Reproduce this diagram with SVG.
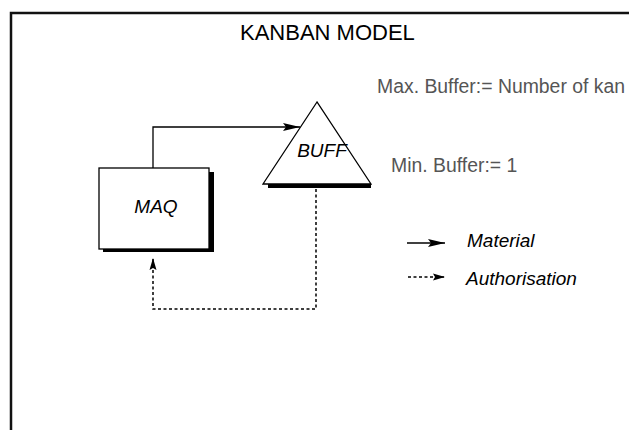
<svg xmlns="http://www.w3.org/2000/svg" width="629" height="430" viewBox="0 0 629 430">
  <style>
    .lbl { font-family: "Liberation Sans", Arial, sans-serif; fill: #000; }
    .it { font-style: italic; font-size: 19px; }
    .note { font-family: "Liberation Sans", Arial, sans-serif; font-size: 19.4px; fill: #555; }
    .frame { stroke: #111; stroke-width: 2.5; fill: none; }
    .shape { fill: #fff; stroke: #000; stroke-width: 1.3; }
    .shadow { fill: #000; }
    .flow { fill: none; stroke: #000; stroke-width: 1.3; }
    .auth { fill: none; stroke: #000; stroke-width: 1.5; stroke-dasharray: 3 2.5; }
  </style>
  <defs>
    <marker id="arrow" viewBox="0 0 17 9" refX="17" refY="4.5" markerWidth="17" markerHeight="9" markerUnits="userSpaceOnUse" orient="auto">
      <path d="M0,0.5 L17,4.5 L0,8.5 L3,4.5 Z" fill="#000"/>
    </marker>
    <marker id="arrowSmall" viewBox="0 0 12 8" refX="12" refY="4" markerWidth="12" markerHeight="8" markerUnits="userSpaceOnUse" orient="auto">
      <path d="M0,0.5 L12,4 L0,7.5 L2,4 Z" fill="#000"/>
    </marker>
  </defs>

  <rect width="629" height="430" fill="#fff"/>

  <!-- page frame -->
  <path class="frame" d="M11,430 V13 H629"/>

  <text class="lbl" x="240" y="40" font-size="22">KANBAN MODEL</text>

  <text class="note" x="377" y="93">Max. Buffer:= Number of kan</text>
  <text class="note" x="391" y="172">Min. Buffer:= 1</text>

  <!-- connectors -->
  <g id="connectors">
    <path class="flow" d="M153,168 V127 H300" marker-end="url(#arrow)"/>
    <path class="auth" d="M316,189 V309 H153 V258" marker-end="url(#arrowSmall)"/>
  </g>

  <g id="maq">
    <rect class="shadow" x="103" y="172" width="111" height="80"/>
    <rect class="shape" x="99" y="168" width="110" height="81"/>
    <text class="lbl it" x="156" y="213" text-anchor="middle">MAQ</text>
  </g>

  <g id="buff">
    <rect class="shadow" x="268" y="184" width="103" height="4"/>
    <polygon class="shape" points="317,102 263,184 371,184"/>
    <text class="lbl it" x="322" y="157" text-anchor="middle">BUFF</text>
  </g>

  <g id="legend">
    <path class="flow" d="M407,243 H445" marker-end="url(#arrow)"/>
    <text class="lbl it" x="467" y="247">Material</text>
    <path class="auth" d="M408,277 H445" stroke-dasharray="2.5 2.5" marker-end="url(#arrowSmall)"/>
    <text class="lbl it" x="466" y="285">Authorisation</text>
  </g>
</svg>
